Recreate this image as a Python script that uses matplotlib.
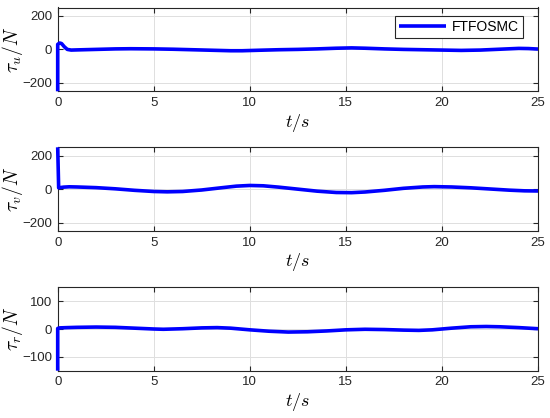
import matplotlib
matplotlib.use("Agg")
import matplotlib.pyplot as plt

# ---- data ----
t_u = [0, 0.0, 0.1, 0.2, 0.35, 0.5, 0.7, 1.0, 2.0, 3.0, 3.8, 5.0, 6.0, 7.0, 8.0, 9.0, 9.6, 10.5, 11.5, 12.5, 13.5, 14.5, 15.3, 16.0, 17.0, 18.0, 19.0, 20.0, 21.0, 22.0, 23.0, 24.0, 24.5, 25.0]
tau_u = [-250, 30, 38, 35, 15, 0, -4, -3, 0, 3, 4, 3, 1, -2, -5, -8, -8, -5, -2, 0, 3, 7, 9, 7, 3, 0, -2, -4, -6, -4, 1, 6, 5, 2]

t_v = [0, 0.0, 0.05, 0.3, 0.6, 1.0, 2.0, 3.0, 4.0, 5.0, 5.7, 6.5, 7.5, 8.5, 9.3, 10.0, 10.7, 11.5, 12.5, 13.5, 14.5, 15.3, 16.0, 17.0, 18.0, 19.0, 19.6, 20.5, 21.5, 22.5, 23.5, 24.3, 25.0]
tau_v = [250, 250, 8, 12, 14, 13, 9, 2, -7, -14, -16, -14, -5, 8, 18, 22, 20, 12, 0, -12, -20, -21, -17, -7, 5, 13, 15, 13, 8, 1, -6, -10, -11]

t_r = [0, 0.0, 0.1, 0.5, 1.0, 2.0, 3.0, 4.0, 5.0, 5.5, 6.5, 7.5, 8.3, 9.0, 10.0, 11.0, 12.0, 13.0, 14.0, 15.0, 16.0, 17.0, 18.0, 18.8, 19.5, 20.5, 21.5, 22.3, 23.0, 24.0, 25.0]
tau_r = [-150, 2, 4, 5, 6, 7, 6, 3, 0, -1, 1, 4, 5, 3, -3, -8, -11, -10, -7, -3, -1, -2, -4, -5, -3, 3, 8, 9, 8, 5, 1]

x_ticks = [0, 5, 10, 15, 20, 25]
ylims = [(-250, 250), (-250, 250), (-150, 150)]
yticks = [[-200, 0, 200], [-200, 0, 200], [-100, 0, 100]]
ylabels = [r"$\tau_u/N$", r"$\tau_v/N$", r"$\tau_r/N$"]
legend_label = "FTFOSMC"

plt.rcParams['font.family'] = ['Liberation Sans', 'DejaVu Sans']
plt.rcParams['mathtext.fontset'] = 'cm'

fig = plt.figure(figsize=(5.5, 4.18), dpi=100)
W, H = 550, 418
boxes = [(57.7, 7.5, 538, 91.3), (57.7, 147.3, 538, 231), (57.7, 287.3, 538, 370.7)]
series = [(t_u, tau_u), (t_v, tau_v), (t_r, tau_r)]
edge = '#262626'
for i, (x0, y0, x1, y1) in enumerate(boxes):
    ax = fig.add_axes([x0 / W, 1 - y1 / H, (x1 - x0) / W, (y1 - y0) / H])
    t, y = series[i]
    ln, = ax.plot(t, y, color='#0000ff', lw=2.6, solid_joinstyle='round',
                  solid_capstyle='butt', clip_on=False, zorder=3)
    ax.set_xlim(0, 25)
    ax.set_ylim(*ylims[i])
    ax.set_xticks(x_ticks)
    ax.set_yticks(yticks[i])
    ax.grid(True, color='#dedede', lw=0.7)
    ax.set_axisbelow(True)
    for s in ax.spines.values():
        s.set_color(edge)
        s.set_linewidth(0.8)
    ax.tick_params(direction='in', top=True, right=True, length=3.5, width=0.8,
                   color=edge, labelcolor=edge, labelsize=9.5, pad=4)
    ax.set_xlabel(r"$t/s$", fontsize=13, labelpad=2)
    ax.set_ylabel(ylabels[i], fontsize=14, labelpad=-2)
    if i == 0:
        leg = ax.legend([ln], [legend_label], loc='upper right', fontsize=10,
                        handlelength=3.4, borderpad=0.3, handletextpad=0.4,
                        fancybox=False, framealpha=1, bbox_to_anchor=(0.983, 0.985))
        leg.get_frame().set_edgecolor(edge)
        leg.get_frame().set_linewidth(0.8)

fig.savefig("out.png", dpi=100)
